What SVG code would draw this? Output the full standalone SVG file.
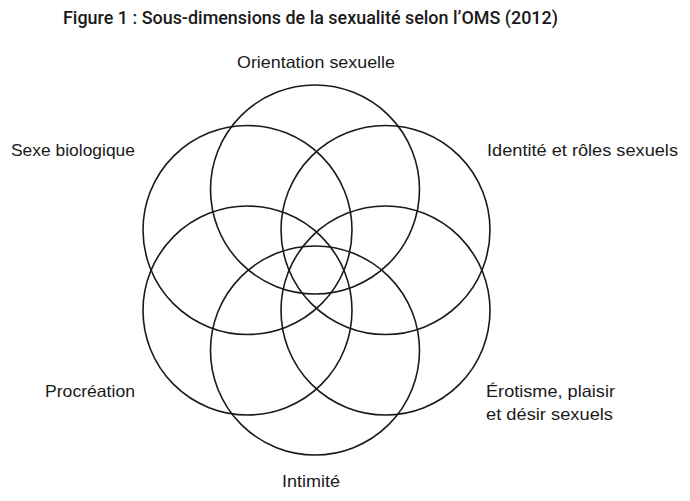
<svg xmlns="http://www.w3.org/2000/svg" width="690" height="501" viewBox="0 0 690 501">
<style>
text{font-family:"Liberation Sans","Arial",sans-serif;font-size:16.5px;fill:#1a1a1a}
.title{font-family:Roboto,"Liberation Sans",sans-serif;font-weight:500;font-size:17.5px}
.c{fill:none;stroke:#1a1a1a;stroke-width:1.6}
</style>
<rect width="690" height="501" fill="#fff"/>
<text class="title" x="63" y="24" textLength="495" lengthAdjust="spacingAndGlyphs">Figure 1 : Sous-dimensions de la sexualité selon l’OMS (2012)</text>
<g id="orientation"><circle class="c" cx="315" cy="189.5" r="104.5"/><text x="237" y="68" textLength="158" lengthAdjust="spacingAndGlyphs">Orientation sexuelle</text></g>
<g id="identite"><circle class="c" cx="385.5" cy="230" r="104.5"/><text x="487" y="156" textLength="191" lengthAdjust="spacingAndGlyphs">Identité et rôles sexuels</text></g>
<g id="erotisme"><circle class="c" cx="385.5" cy="310.5" r="104.5"/><text x="486" y="397" textLength="129" lengthAdjust="spacingAndGlyphs">Érotisme, plaisir</text><text x="486" y="420" textLength="127" lengthAdjust="spacingAndGlyphs">et désir sexuels</text></g>
<g id="intimite"><circle class="c" cx="315" cy="350.5" r="104.5"/><text x="282" y="487" textLength="58" lengthAdjust="spacingAndGlyphs">Intimité</text></g>
<g id="procreation"><circle class="c" cx="247.5" cy="310.5" r="104.5"/><text x="45" y="396.5" textLength="90" lengthAdjust="spacingAndGlyphs">Procréation</text></g>
<g id="sexe"><circle class="c" cx="247.5" cy="230" r="104.5"/><text x="11" y="156" textLength="124" lengthAdjust="spacingAndGlyphs">Sexe biologique</text></g>
<g id="connectors"></g>
</svg>
